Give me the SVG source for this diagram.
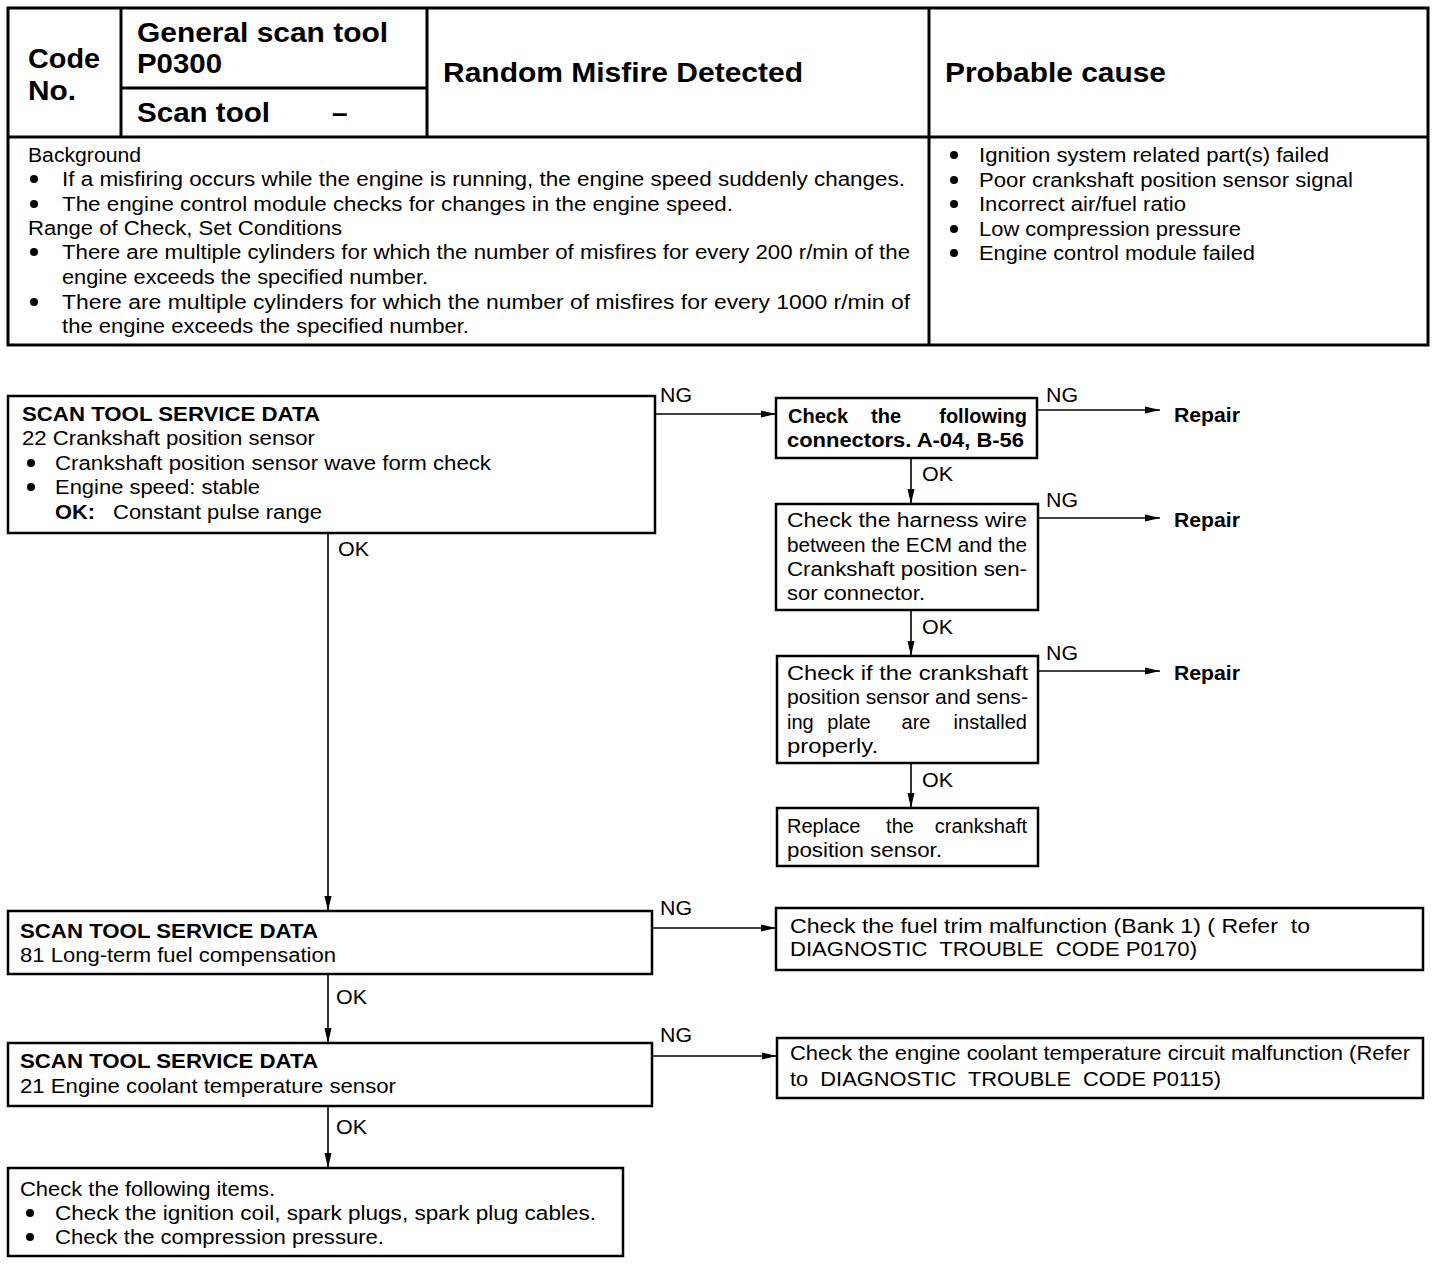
<svg xmlns="http://www.w3.org/2000/svg" width="1440" height="1276" viewBox="0 0 1440 1276">
<style>
text{font-family:"Liberation Sans",Arial,sans-serif;font-size:20px;fill:#000}
.b{font-weight:bold}
.h{font-weight:bold;font-size:28px}
.e{text-anchor:end}
.m{text-anchor:middle}
.box{fill:#fff;stroke:#000;stroke-width:2.5}
.tb{fill:none;stroke:#000;stroke-width:3}
.c{fill:none;stroke:#000;stroke-width:1.6}
.dot{fill:#000}
</style>
<defs>
<marker id="ah" markerUnits="userSpaceOnUse" markerWidth="16" markerHeight="10" refX="15" refY="5" orient="auto">
<path d="M0,1.5 L15,5 L0,8.5 Z" fill="#000"/>
</marker>
</defs>
<rect width="1440" height="1276" fill="#fff"/>

<g id="header">
<rect class="tb" x="8" y="8" width="1420" height="337"/>
<line class="tb" x1="8" y1="137" x2="1428" y2="137"/>
<line class="tb" x1="121" y1="8" x2="121" y2="137"/>
<line class="tb" x1="427" y1="8" x2="427" y2="137"/>
<line class="tb" x1="929" y1="8" x2="929" y2="345"/>
<line class="tb" x1="121" y1="88" x2="427" y2="88"/>
<text class="h" x="28" y="68" textLength="72" lengthAdjust="spacingAndGlyphs">Code</text>
<text class="h" x="28" y="100" textLength="48" lengthAdjust="spacingAndGlyphs">No.</text>
<text class="h" x="137" y="42" textLength="251" lengthAdjust="spacingAndGlyphs">General scan tool</text>
<text class="h" x="137" y="73" textLength="85" lengthAdjust="spacingAndGlyphs">P0300</text>
<text class="h" x="137" y="122" textLength="133" lengthAdjust="spacingAndGlyphs">Scan tool</text>
<text class="h" x="332" y="122">–</text>
<text class="h" x="443" y="82" textLength="360" lengthAdjust="spacingAndGlyphs">Random Misfire Detected</text>
<text class="h" x="945" y="82" textLength="221" lengthAdjust="spacingAndGlyphs">Probable cause</text>

<text x="28" y="162" textLength="113" lengthAdjust="spacingAndGlyphs">Background</text>
<circle class="dot" cx="34" cy="179" r="4"/>
<text x="62" y="186" textLength="843" lengthAdjust="spacingAndGlyphs">If a misfiring occurs while the engine is running, the engine speed suddenly changes.</text>
<circle class="dot" cx="34" cy="204" r="4"/>
<text x="62" y="211" textLength="671" lengthAdjust="spacingAndGlyphs">The engine control module checks for changes in the engine speed.</text>
<text x="28" y="235" textLength="314" lengthAdjust="spacingAndGlyphs">Range of Check, Set Conditions</text>
<circle class="dot" cx="34" cy="252" r="4"/>
<text x="62" y="259" textLength="848" lengthAdjust="spacingAndGlyphs">There are multiple cylinders for which the number of misfires for every 200 r/min of the</text>
<text x="62" y="284" textLength="366" lengthAdjust="spacingAndGlyphs">engine exceeds the specified number.</text>
<circle class="dot" cx="34" cy="302" r="4"/>
<text x="62" y="309" textLength="848" lengthAdjust="spacingAndGlyphs">There are multiple cylinders for which the number of misfires for every 1000 r/min of</text>
<text x="62" y="333" textLength="407" lengthAdjust="spacingAndGlyphs">the engine exceeds the specified number.</text>

<circle class="dot" cx="954" cy="155" r="4"/>
<text x="979" y="162" textLength="350" lengthAdjust="spacingAndGlyphs">Ignition system related part(s) failed</text>
<circle class="dot" cx="954" cy="180" r="4"/>
<text x="979" y="187" textLength="374" lengthAdjust="spacingAndGlyphs">Poor crankshaft position sensor signal</text>
<circle class="dot" cx="954" cy="204" r="4"/>
<text x="979" y="211" textLength="207" lengthAdjust="spacingAndGlyphs">Incorrect air/fuel ratio</text>
<circle class="dot" cx="954" cy="229" r="4"/>
<text x="979" y="236" textLength="262" lengthAdjust="spacingAndGlyphs">Low compression pressure</text>
<circle class="dot" cx="954" cy="253" r="4"/>
<text x="979" y="260" textLength="276" lengthAdjust="spacingAndGlyphs">Engine control module failed</text>
</g>

<g id="connectors">
<path class="c" d="M655,414 H776" marker-end="url(#ah)"/>
<path class="c" d="M1037,410 H1160" marker-end="url(#ah)"/>
<path class="c" d="M911,458 V504" marker-end="url(#ah)"/>
<path class="c" d="M1038,518 H1160" marker-end="url(#ah)"/>
<path class="c" d="M911,610 V656" marker-end="url(#ah)"/>
<path class="c" d="M1038,671 H1160" marker-end="url(#ah)"/>
<path class="c" d="M911,763 V808" marker-end="url(#ah)"/>
<path class="c" d="M328,533 V911" marker-end="url(#ah)"/>
<path class="c" d="M652,928 H776" marker-end="url(#ah)"/>
<path class="c" d="M328,974 V1043" marker-end="url(#ah)"/>
<path class="c" d="M652,1056 H777" marker-end="url(#ah)"/>
<path class="c" d="M328,1106 V1168" marker-end="url(#ah)"/>
<text x="660" y="402" textLength="32" lengthAdjust="spacingAndGlyphs">NG</text>
<text x="1046" y="402" textLength="32" lengthAdjust="spacingAndGlyphs">NG</text>
<text x="922" y="481" textLength="31" lengthAdjust="spacingAndGlyphs">OK</text>
<text x="1046" y="507" textLength="32" lengthAdjust="spacingAndGlyphs">NG</text>
<text x="922" y="634" textLength="31" lengthAdjust="spacingAndGlyphs">OK</text>
<text x="1046" y="660" textLength="32" lengthAdjust="spacingAndGlyphs">NG</text>
<text x="922" y="787" textLength="31" lengthAdjust="spacingAndGlyphs">OK</text>
<text x="338" y="556" textLength="31" lengthAdjust="spacingAndGlyphs">OK</text>
<text x="660" y="915" textLength="32" lengthAdjust="spacingAndGlyphs">NG</text>
<text x="336" y="1004" textLength="31" lengthAdjust="spacingAndGlyphs">OK</text>
<text x="660" y="1042" textLength="32" lengthAdjust="spacingAndGlyphs">NG</text>
<text x="336" y="1134" textLength="31" lengthAdjust="spacingAndGlyphs">OK</text>
</g>

<g id="n1">
<rect class="box" x="8" y="396" width="647" height="137"/>
<text class="b" x="22" y="421" textLength="298" lengthAdjust="spacingAndGlyphs">SCAN TOOL SERVICE DATA</text>
<text x="22" y="445" textLength="293" lengthAdjust="spacingAndGlyphs">22 Crankshaft position sensor</text>
<circle class="dot" cx="31" cy="463" r="4"/>
<text x="55" y="470" textLength="436" lengthAdjust="spacingAndGlyphs">Crankshaft position sensor wave form check</text>
<circle class="dot" cx="31" cy="487" r="4"/>
<text x="55" y="494" textLength="205" lengthAdjust="spacingAndGlyphs">Engine speed: stable</text>
<text class="b" x="55" y="519" textLength="40" lengthAdjust="spacingAndGlyphs">OK:</text>
<text x="113" y="519" textLength="209" lengthAdjust="spacingAndGlyphs">Constant pulse range</text>
</g>

<g id="n2">
<rect class="box" x="776" y="398" width="261" height="60"/>
<text class="b" x="788" y="423">Check</text>
<text class="b m" x="886" y="423">the</text>
<text class="b e" x="1027" y="423">following</text>
<text class="b" x="787" y="447" textLength="237" lengthAdjust="spacingAndGlyphs">connectors. A-04, B-56</text>
</g>

<g id="r1"><text class="b" x="1174" y="422" textLength="66" lengthAdjust="spacingAndGlyphs">Repair</text></g>

<g id="n3">
<rect class="box" x="776" y="504" width="262" height="106"/>
<text x="787" y="527" textLength="240" lengthAdjust="spacingAndGlyphs">Check the harness wire</text>
<text x="787" y="552" textLength="240" lengthAdjust="spacingAndGlyphs">between the ECM and the</text>
<text x="787" y="576" textLength="240" lengthAdjust="spacingAndGlyphs">Crankshaft position sen-</text>
<text x="787" y="600" textLength="138" lengthAdjust="spacingAndGlyphs">sor connector.</text>
</g>

<g id="r2"><text class="b" x="1174" y="527" textLength="66" lengthAdjust="spacingAndGlyphs">Repair</text></g>

<g id="n4">
<rect class="box" x="777" y="656" width="261" height="107"/>
<text x="787" y="680" textLength="241" lengthAdjust="spacingAndGlyphs">Check if the crankshaft</text>
<text x="787" y="704" textLength="241" lengthAdjust="spacingAndGlyphs">position sensor and sens-</text>
<text x="787" y="729">ing</text>
<text class="m" x="849" y="729">plate</text>
<text class="m" x="916" y="729">are</text>
<text class="e" x="1027" y="729">installed</text>
<text x="787" y="753" textLength="91" lengthAdjust="spacingAndGlyphs">properly.</text>
</g>

<g id="r3"><text class="b" x="1174" y="680" textLength="66" lengthAdjust="spacingAndGlyphs">Repair</text></g>

<g id="n5">
<rect class="box" x="777" y="808" width="261" height="58"/>
<text x="787" y="833">Replace</text>
<text class="m" x="900" y="833">the</text>
<text class="e" x="1027" y="833">crankshaft</text>
<text x="787" y="857" textLength="155" lengthAdjust="spacingAndGlyphs">position sensor.</text>
</g>

<g id="n6">
<rect class="box" x="8" y="911" width="644" height="63"/>
<text class="b" x="20" y="938" textLength="298" lengthAdjust="spacingAndGlyphs">SCAN TOOL SERVICE DATA</text>
<text x="20" y="962" textLength="316" lengthAdjust="spacingAndGlyphs">81 Long-term fuel compensation</text>
</g>

<g id="n7">
<rect class="box" x="776" y="908" width="647" height="62"/>
<text x="790" y="933" textLength="520" lengthAdjust="spacingAndGlyphs" xml:space="preserve">Check the fuel trim malfunction (Bank 1) ( Refer  to</text>
<text x="790" y="956" textLength="407" lengthAdjust="spacingAndGlyphs" xml:space="preserve">DIAGNOSTIC  TROUBLE  CODE P0170)</text>
</g>

<g id="n8">
<rect class="box" x="8" y="1043" width="644" height="63"/>
<text class="b" x="20" y="1068" textLength="298" lengthAdjust="spacingAndGlyphs">SCAN TOOL SERVICE DATA</text>
<text x="20" y="1093" textLength="376" lengthAdjust="spacingAndGlyphs">21 Engine coolant temperature sensor</text>
</g>

<g id="n9">
<rect class="box" x="777" y="1038" width="646" height="60"/>
<text x="790" y="1060" textLength="620" lengthAdjust="spacingAndGlyphs">Check the engine coolant temperature circuit malfunction (Refer</text>
<text x="790" y="1086" textLength="431" lengthAdjust="spacingAndGlyphs" xml:space="preserve">to  DIAGNOSTIC  TROUBLE  CODE P0115)</text>
</g>

<g id="n10">
<rect class="box" x="8" y="1168" width="615" height="88"/>
<text x="20" y="1196" textLength="255" lengthAdjust="spacingAndGlyphs">Check the following items.</text>
<circle class="dot" cx="30" cy="1213" r="4"/>
<text x="55" y="1220" textLength="541" lengthAdjust="spacingAndGlyphs">Check the ignition coil, spark plugs, spark plug cables.</text>
<circle class="dot" cx="30" cy="1237" r="4"/>
<text x="55" y="1244" textLength="329" lengthAdjust="spacingAndGlyphs">Check the compression pressure.</text>
</g>
</svg>
